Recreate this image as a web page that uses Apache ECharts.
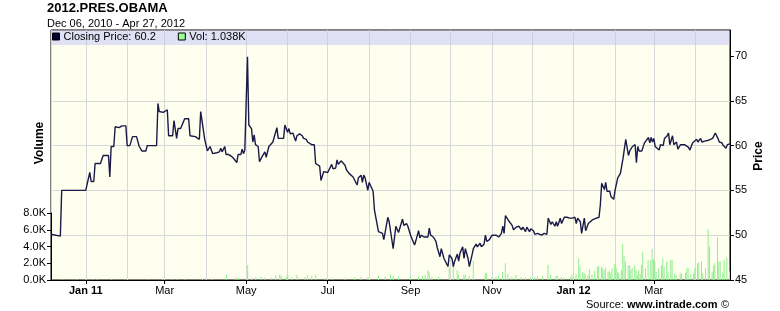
<!DOCTYPE html>
<html><head><meta charset="utf-8">
<script src="https://cdn.jsdelivr.net/npm/echarts@6/dist/echarts.min.js"></script>
<style>html,body{margin:0;padding:0;background:#fff}#c{width:780px;height:311px}</style>
</head><body><div id="c"></div>
<script>
const priceDates = [
'2010-12-06','2010-12-07','2010-12-13','2010-12-14','2011-01-01','2011-01-04','2011-01-05','2011-01-07','2011-01-08','2011-01-12',
'2011-01-14','2011-01-18','2011-01-19','2011-01-20','2011-01-22','2011-01-23','2011-01-26','2011-01-28','2011-01-31','2011-02-01',
'2011-02-03','2011-02-05','2011-02-08','2011-02-10','2011-02-11','2011-02-12','2011-02-15','2011-02-16','2011-02-23','2011-02-24',
'2011-02-25','2011-02-28','2011-03-01','2011-03-03','2011-03-04','2011-03-07','2011-03-08','2011-03-09','2011-03-10','2011-03-11',
'2011-03-13','2011-03-14','2011-03-16','2011-03-19','2011-03-20','2011-03-24','2011-03-27','2011-03-28','2011-03-29','2011-03-31',
'2011-04-01','2011-04-02','2011-04-04','2011-04-06','2011-04-09','2011-04-11','2011-04-12','2011-04-13','2011-04-15','2011-04-16',
'2011-04-18','2011-04-20','2011-04-22','2011-04-24','2011-04-25','2011-04-27','2011-04-28','2011-04-29','2011-04-30','2011-05-02',
'2011-05-03','2011-05-05','2011-05-06','2011-05-07','2011-05-08','2011-05-10','2011-05-11','2011-05-13','2011-05-14','2011-05-15',
'2011-05-16','2011-05-18','2011-05-19','2011-05-21','2011-05-22','2011-05-24','2011-05-25','2011-05-27','2011-05-29','2011-05-30',
'2011-06-01','2011-06-02','2011-06-03','2011-06-05','2011-06-07','2011-06-08','2011-06-10','2011-06-12','2011-06-13','2011-06-15',
'2011-06-16','2011-06-19','2011-06-21','2011-06-22','2011-06-23','2011-06-25','2011-06-26','2011-06-28','2011-06-29','2011-07-01',
'2011-07-02','2011-07-04','2011-07-05','2011-07-07','2011-07-08','2011-07-09','2011-07-11','2011-07-12','2011-07-14','2011-07-15',
'2011-07-17','2011-07-18','2011-07-20','2011-07-21','2011-07-23','2011-07-24','2011-07-26','2011-07-27','2011-07-28','2011-07-29',
'2011-07-31','2011-08-01','2011-08-02','2011-08-04','2011-08-05','2011-08-06','2011-08-08','2011-08-09','2011-08-11','2011-08-12',
'2011-08-15','2011-08-16','2011-08-19','2011-08-20','2011-08-21','2011-08-23','2011-08-26','2011-08-27','2011-08-29','2011-08-30',
'2011-09-01','2011-09-02','2011-09-04','2011-09-05','2011-09-07','2011-09-08','2011-09-09','2011-09-11','2011-09-12','2011-09-14',
'2011-09-15','2011-09-16','2011-09-18','2011-09-20','2011-09-21','2011-09-23','2011-09-24','2011-09-26','2011-09-27','2011-09-29',
'2011-09-30','2011-10-02','2011-10-03','2011-10-04','2011-10-06','2011-10-07','2011-10-08','2011-10-10','2011-10-11','2011-10-12',
'2011-10-14','2011-10-15','2011-10-17','2011-10-18','2011-10-20','2011-10-21','2011-10-23','2011-10-24','2011-10-26','2011-10-27',
'2011-10-28','2011-10-30','2011-11-01','2011-11-04','2011-11-06','2011-11-08','2011-11-09','2011-11-10','2011-11-11','2011-11-13',
'2011-11-14','2011-11-16','2011-11-17','2011-11-19','2011-11-21','2011-11-23','2011-11-24','2011-11-26','2011-11-27','2011-11-29',
'2011-11-30','2011-12-02','2011-12-03','2011-12-05','2011-12-06','2011-12-08','2011-12-10','2011-12-12','2011-12-13','2011-12-15',
'2011-12-16','2011-12-18','2011-12-19','2011-12-20','2011-12-22','2011-12-23','2011-12-25','2011-12-27','2011-12-29','2011-12-31',
'2012-01-02','2012-01-03','2012-01-04','2012-01-06','2012-01-07','2012-01-09','2012-01-10','2012-01-12','2012-01-13','2012-01-15',
'2012-01-16','2012-01-18','2012-01-20','2012-01-21','2012-01-22','2012-01-24','2012-01-25','2012-01-26','2012-01-28','2012-01-29',
'2012-01-31','2012-02-01','2012-02-03','2012-02-05','2012-02-07','2012-02-09','2012-02-11','2012-02-12','2012-02-14','2012-02-16',
'2012-02-17','2012-02-18','2012-02-19','2012-02-21','2012-02-23','2012-02-24','2012-02-26','2012-02-27','2012-02-28','2012-02-29',
'2012-03-01','2012-03-02','2012-03-03','2012-03-05','2012-03-06','2012-03-08','2012-03-09','2012-03-11','2012-03-12','2012-03-13',
'2012-03-15','2012-03-16','2012-03-18','2012-03-19','2012-03-21','2012-03-22','2012-03-24','2012-03-25','2012-03-27','2012-03-28',
'2012-03-30','2012-03-31','2012-04-02','2012-04-03','2012-04-05','2012-04-06','2012-04-08','2012-04-09','2012-04-11','2012-04-12',
'2012-04-14','2012-04-15','2012-04-16','2012-04-18','2012-04-19','2012-04-21','2012-04-22','2012-04-24','2012-04-25','2012-04-27'
];
const priceValues = [
50.1,49.9,49.9,55.0,55.0,57.0,56.0,56.0,58.0,58.0,
58.9,58.9,56.5,59.9,59.9,62.1,62.0,62.2,62.2,60.0,
60.0,61.0,61.0,59.9,59.7,59.4,59.4,60.0,60.0,64.7,
63.8,63.7,63.5,64.0,61.1,61.1,62.8,62.6,60.8,61.9,
61.9,61.7,63.0,63.0,61.1,61.0,60.7,63.8,64.0,60.7,
60.5,59.4,59.9,59.1,59.2,59.3,59.7,59.3,59.9,59.0,
59.0,58.8,58.5,58.1,59.0,59.0,59.6,59.1,59.5,69.9,
62.3,61.9,60.4,61.2,60.1,59.9,58.2,58.8,58.6,59.3,
58.7,59.9,60.1,60.4,60.3,62.0,60.8,60.8,60.8,62.3,
61.5,61.9,61.3,61.4,60.5,61.1,61.3,61.1,60.8,60.7,
60.4,60.1,60.1,58.0,58.2,57.7,56.1,57.1,57.3,57.0,
56.9,57.9,57.4,57.5,58.4,57.9,58.3,58.5,57.8,57.3,
56.9,57.1,56.5,56.3,55.6,56.4,56.7,55.9,56.7,56.4,
55.0,55.9,56.1,54.9,52.8,52.6,50.4,50.6,50.2,49.5,
52.0,51.5,48.5,48.6,51.0,50.3,51.8,51.1,51.3,51.0,
50.0,50.2,48.9,49.4,50.5,49.7,50.0,49.8,50.0,49.8,
50.8,50.0,49.8,49.3,48.6,47.6,48.5,47.4,47.2,46.5,
47.8,47.4,46.5,47.1,47.9,47.1,48.0,48.7,47.4,48.5,
47.4,46.5,47.8,48.5,49.0,48.7,49.1,48.7,49.0,50.0,
49.3,49.5,50.0,50.0,49.8,50.2,51.0,50.2,52.2,51.7,
51.5,51.1,50.6,50.9,51.0,50.6,50.9,50.4,50.9,50.4,
50.7,50.5,50.1,50.2,50.0,50.0,50.2,50.1,51.9,51.2,
51.5,51.0,51.5,51.0,51.9,51.3,52.0,52.0,51.9,51.9,
52.0,51.3,51.9,51.5,50.2,51.9,50.5,51.3,51.1,51.7,
51.9,51.9,52.0,53.4,55.8,55.1,55.9,54.9,54.9,54.3,
54.0,55.0,56.4,56.9,58.6,60.7,58.9,59.4,59.9,60.1,
58.1,59.9,59.4,59.4,60.3,60.4,60.9,60.3,60.9,60.4,
60.8,59.9,60.0,59.5,60.1,60.0,60.8,61.1,61.4,60.1,
61.1,60.1,60.4,59.6,60.1,59.9,60.1,60.0,59.8,59.5,
60.3,60.4,60.7,60.4,60.8,60.4,60.5,60.3,60.6,60.7,
60.8,61.0,61.4,60.8,60.4,60.3,60.0,59.7,60.1,60.2
];
const volDates = [
'2010-12-14','2010-12-25','2011-01-01','2011-01-06','2011-01-09','2011-01-20','2011-01-30','2011-02-16','2011-02-27','2011-03-06',
'2011-03-10','2011-03-16','2011-03-29','2011-04-05','2011-04-16','2011-04-23','2011-04-25','2011-05-02','2011-05-05','2011-05-08',
'2011-05-12','2011-05-15','2011-05-20','2011-05-23','2011-05-26','2011-05-27','2011-05-31','2011-06-01','2011-06-04','2011-06-08',
'2011-06-14','2011-06-16','2011-06-19','2011-06-22','2011-06-29','2011-07-04','2011-07-14','2011-07-21','2011-07-26','2011-07-31',
'2011-08-08','2011-08-13','2011-08-17','2011-08-19','2011-08-23','2011-09-01','2011-09-07','2011-09-10','2011-09-12','2011-09-14',
'2011-09-15','2011-09-17','2011-09-22','2011-09-30','2011-10-03','2011-10-06','2011-10-07','2011-10-11','2011-10-12','2011-10-15',
'2011-10-18','2011-10-27','2011-10-28','2011-11-01','2011-11-04','2011-11-06','2011-11-09','2011-11-11','2011-11-13','2011-11-16',
'2011-11-19','2011-11-23','2011-11-26','2011-11-30','2011-12-03','2011-12-05','2011-12-09','2011-12-13','2011-12-15','2011-12-19',
'2011-12-20','2011-12-23','2011-12-25','2011-12-30','2011-12-31','2012-01-03','2012-01-05','2012-01-06','2012-01-08','2012-01-09',
'2012-01-10','2012-01-12','2012-01-13','2012-01-15','2012-01-17','2012-01-19','2012-01-20','2012-01-22','2012-01-23','2012-01-24',
'2012-01-25','2012-01-27','2012-01-28','2012-01-29','2012-01-30','2012-02-01','2012-02-02','2012-02-03','2012-02-04','2012-02-06',
'2012-02-07','2012-02-08','2012-02-09','2012-02-11','2012-02-12','2012-02-13','2012-02-14','2012-02-16','2012-02-17','2012-02-18',
'2012-02-19','2012-02-20','2012-02-21','2012-02-22','2012-02-24','2012-02-26','2012-02-28','2012-02-29','2012-03-01','2012-03-02',
'2012-03-03','2012-03-05','2012-03-07','2012-03-08','2012-03-09','2012-03-11','2012-03-12','2012-03-14','2012-03-15','2012-03-17',
'2012-03-18','2012-03-21','2012-03-22','2012-03-25','2012-03-26','2012-03-27','2012-03-29','2012-03-31','2012-04-01','2012-04-03',
'2012-04-04','2012-04-06','2012-04-07','2012-04-09','2012-04-11','2012-04-12','2012-04-14','2012-04-15','2012-04-16','2012-04-18',
'2012-04-19','2012-04-20','2012-04-22','2012-04-23','2012-04-25','2012-04-27'
];
const volValues = [
100,100,100,100,100,100,50,50,100,100,
100,100,150,150,700,300,300,1800,200,300,
400,300,300,600,700,500,400,600,300,600,
400,600,500,700,200,200,200,300,400,300,
500,400,700,500,400,400,400,500,600,1200,
1000,400,400,1500,1600,1200,600,700,600,500,
2300,800,800,400,400,500,1000,2000,700,400,
600,400,300,400,400,400,500,1800,600,500,
500,400,300,300,600,700,2600,1600,1000,800,
700,600,1300,600,1100,1600,1700,1600,1400,1200,
1500,1000,1100,800,1400,1900,1500,1000,800,1200,
4300,2800,2200,1700,1800,1200,1500,1800,1200,600,
1200,700,1800,3400,1400,2400,2400,3700,2500,2300,
1000,1400,1800,2600,1600,2200,900,2400,2400,800,
600,800,800,900,1400,1400,700,800,1400,2000,
2100,2200,800,1400,6100,4000,1000,1700,2000,5100,
2200,2200,900,2400,2700,1038
];
const tickMonths = ['2011-01-01','2011-03-01','2011-05-01','2011-07-01','2011-09-01','2011-11-01','2012-01-01','2012-03-01'];
const priceTicks = [45,50,55,60,65,70];
const volTicks = [0,2000,4000,6000,8000];
const monthNames = ['Jan','Feb','Mar','Apr','May','Jun','Jul','Aug','Sep','Oct','Nov','Dec'];

const FONT = '"Liberation Sans", Arial, sans-serif';
const DAY = 86400000;
const parseDate = s => echarts.number.parseDate(s).getTime();
const startT = parseDate('2010-12-06');
const endT = parseDate('2012-04-27');
const lastPrice = priceValues[priceValues.length - 1];
const lastVol = volValues[volValues.length - 1];
const chart = echarts.init(document.getElementById('c'));
chart.setOption({
  animation: false,
  textStyle: {fontFamily: FONT},
  title: {
    text: '2012.PRES.OBAMA', subtext: 'Dec 06, 2010 - Apr 27, 2012',
    left: 47, top: 2, padding: 0, itemGap: 3,
    textStyle: {fontFamily: FONT, fontSize: 13, fontWeight: 'bold', color: '#000'},
    subtextStyle: {fontFamily: FONT, fontSize: 11, color: '#000'}
  },
  legend: {
    left: 52, top: 31, padding: 0, itemWidth: 7, itemHeight: 7, itemGap: 22, icon: 'rect',
    textStyle: {fontFamily: FONT, fontSize: 11, color: '#000', padding: [0, 0, 0, -1]},
    formatter: n => n === 'Closing Price' ? 'Closing Price: ' + lastPrice : 'Vol: ' + (lastVol / 1000).toFixed(3) + 'K',
    data: [
      {name: 'Closing Price', itemStyle: {color: '#000033', borderColor: '#000', borderWidth: 1}},
      {name: 'Vol', itemStyle: {color: '#99FF99', borderColor: '#000', borderWidth: 1}}
    ]
  },
  grid: [
    {left: 51, right: 50, top: 30, bottom: 31, show: true, backgroundColor: '#FFFFF0', borderColor: '#000', borderWidth: 1},
    {left: 51, right: 50, top: 213, bottom: 31}
  ],
  xAxis: [
    {
      type: 'time', gridIndex: 0, position: 'bottom', min: startT, max: endT,
      splitNumber: 17, minInterval: 30 * DAY, maxInterval: 31 * DAY,
      axisLine: {lineStyle: {color: '#000'}},
      axisTick: {show: false},
      axisLabel: {show: false},
      splitLine: {show: true, lineStyle: {color: '#D8D8D8', width: 1}}
    },
    {type: 'time', gridIndex: 1, min: startT, max: endT, show: false},
    {
      type: 'value', gridIndex: 0, position: 'bottom', min: startT, max: endT,
      axisLine: {show: false},
      axisTick: {show: true, customValues: tickMonths.map(parseDate), length: 4, lineStyle: {color: '#000'}},
      axisLabel: {
        show: true, customValues: tickMonths.map(parseDate), margin: 5, color: '#000', fontSize: 11, fontFamily: FONT,
        formatter: v => {
          const d = new Date(v);
          const m = d.getMonth();
          if (m === 0) return '{b|Jan ' + String(d.getFullYear()).slice(2) + '}';
          return monthNames[m];
        },
        rich: {b: {fontWeight: 'bold', fontSize: 11, fontFamily: FONT, color: '#000'}}
      },
      splitLine: {show: false}
    }
  ],
  yAxis: [
    {
      type: 'value', gridIndex: 0, position: 'right', min: 45, max: 72.9,
      axisLine: {show: true, lineStyle: {color: '#000'}},
      axisTick: {show: true, customValues: priceTicks, length: 4, lineStyle: {color: '#000'}},
      axisLabel: {customValues: priceTicks, margin: 5, color: '#000', fontSize: 11, fontFamily: FONT},
      splitLine: {show: true, showMinLine: false, showMaxLine: false, lineStyle: {color: '#D8D8D8'}}
    },
    {
      type: 'value', gridIndex: 1, position: 'left', min: 0, max: 8000,
      axisLine: {show: true, lineStyle: {color: '#000'}},
      axisTick: {show: true, customValues: volTicks, length: 4, lineStyle: {color: '#000'}},
      axisLabel: {customValues: volTicks, margin: 5, color: '#000', fontSize: 11, fontFamily: FONT,
        formatter: v => (v / 1000).toFixed(1) + 'K'},
      splitLine: {show: false}
    }
  ],
  series: [
    {
      name: 'Vol', type: 'bar', xAxisIndex: 1, yAxisIndex: 1, barWidth: 1, z: 1,
      itemStyle: {color: '#90EE90'},
      data: volDates.map((d, i) => [d, volValues[i]])
    },
    {
      name: 'Closing Price', type: 'line', xAxisIndex: 0, yAxisIndex: 0, z: 3,
      showSymbol: false, symbol: 'none',
      lineStyle: {color: '#1A1A48', width: 1.4},
      itemStyle: {color: '#000033'},
      data: priceDates.map((d, i) => [d, priceValues[i]])
    }
  ],
  graphic: [
    {type: 'rect', z: 1, silent: true, shape: {x: 51.5, y: 30.5, width: 678, height: 14.5},
     style: {fill: 'rgba(196,196,250,0.5)'}},
    {type: 'text', x: 40, y: 143, rotation: Math.PI / 2,
     style: {text: 'Volume', font: 'bold 12px ' + FONT, fill: '#000', textAlign: 'center', textVerticalAlign: 'middle'}},
    {type: 'text', x: 759, y: 156, rotation: Math.PI / 2,
     style: {text: 'Price', font: 'bold 12px ' + FONT, fill: '#000', textAlign: 'center', textVerticalAlign: 'middle'}},
    {type: 'text', x: 729, y: 305,
     style: {text: '{n|Source: }{b|www.intrade.com} {n|©}', textAlign: 'right', textVerticalAlign: 'middle', fill: '#000',
       rich: {n: {fontFamily: FONT, fontSize: 11, color: '#000'}, b: {fontFamily: FONT, fontSize: 11, fontWeight: 'bold', color: '#000'}}}}
  ]
});
</script>
</body></html>
